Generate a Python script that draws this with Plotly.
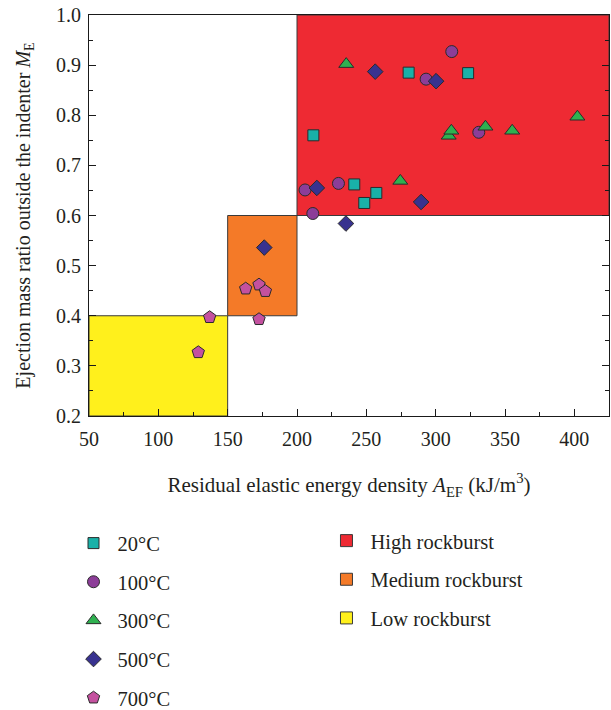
import plotly.graph_objects as go

# ---- data ----
temps = ["20°C", "100°C", "300°C", "500°C", "700°C"]
x20 = [211.8, 241.3, 248.5, 257.2, 280.5, 323.4]
y20 = [0.760, 0.662, 0.625, 0.645, 0.885, 0.884]
x100 = [205.8, 211.4, 229.9, 293.1, 311.6, 331.1]
y100 = [0.651, 0.604, 0.664, 0.872, 0.927, 0.766]
x300 = [235.5, 274.5, 309.4, 311.3, 335.9, 355.2, 402.2]
y300 = [0.902, 0.669, 0.759, 0.769, 0.777, 0.769, 0.797]
x500 = [176.4, 214.3, 235.3, 256.4, 289.5, 300.3]
y500 = [0.536, 0.655, 0.584, 0.887, 0.627, 0.868]
x700 = [128.8, 137.0, 163.0, 172.6, 172.6, 177.2]
y700 = [0.327, 0.397, 0.454, 0.462, 0.393, 0.449]

zones = ["High rockburst", "Medium rockburst", "Low rockburst"]
zone_x0 = [200, 150, 50]
zone_x1 = [425, 200, 150]
zone_y0 = [0.6, 0.4, 0.2]
zone_y1 = [1.0, 0.6, 0.4]

x_ticks = [50, 100, 150, 200, 250, 300, 350, 400]
y_ticks = [0.2, 0.3, 0.4, 0.5, 0.6, 0.7, 0.8, 0.9, 1.0]

# ---- styles ----
FONT = "Liberation Serif"
TXT = "#231f20"
EDGE = "#2b2b2b"
series = [
    (x20, y20, "square", 11, "#19b1a8"),
    (x100, y100, "circle", 12, "#8c3d98"),
    (x300, y300, "triangle-up", 13, "#2fb150"),
    (x500, y500, "diamond", 12, "#38328f"),
    (x700, y700, "pentagon", 13, "#c4519f"),
]
zone_colors = ["#ee2a33", "#f47a28", "#fff01c"]

fig = go.Figure()

for i, (xs, ys, sym, sz, col) in enumerate(series):
    fig.add_trace(go.Scatter(
        x=xs, y=ys, mode="markers", name=temps[i],
        marker=dict(symbol=sym, size=sz, color=col, line=dict(color=EDGE, width=1)),
        legend="legend", legendgroup="t%d" % i,
    ))

for i in range(len(zones)):
    fig.add_shape(
        type="rect", xref="x", yref="y",
        x0=zone_x0[i], x1=zone_x1[i], y0=zone_y0[i], y1=zone_y1[i],
        fillcolor=zone_colors[i], line=dict(color="#3a3a3a", width=1),
        layer="below", showlegend=True, name=zones[i],
        legend="legend2", legendgroup="z%d" % i,
    )

fig.update_layout(
    width=611, height=710,
    margin=dict(l=89, r=2, t=15, b=294, autoexpand=False),
    paper_bgcolor="white", plot_bgcolor="white",
    font=dict(family=FONT, size=20, color=TXT),
    showlegend=True,
    legend=dict(x=-0.0375, y=0.263, xref="paper", yref="container",
                xanchor="left", yanchor="top",
                font=dict(size=20.5, family=FONT, color=TXT), itemwidth=38,
                tracegroupgap=9, bgcolor="rgba(0,0,0,0)", itemsizing="trace"),
    legend2=dict(x=0.449, y=0.2665, xref="paper", yref="container",
                 xanchor="left", yanchor="top",
                 font=dict(size=20.5, family=FONT, color=TXT), itemwidth=38,
                 tracegroupgap=9, bgcolor="rgba(0,0,0,0)"),
)

fig.update_xaxes(
    range=[50, 425], tickvals=x_ticks, ticktext=[str(v) for v in x_ticks],
    showgrid=False, zeroline=False, automargin=False,
    showline=True, linecolor="#1a1a1a", linewidth=1, mirror=True,
    ticks="inside", ticklen=7, tickcolor="#1a1a1a", tickwidth=1,
    minor=dict(ticks="inside", ticklen=4, dtick=25, tick0=50, tickcolor="#1a1a1a", showgrid=False),
    tickfont=dict(size=20, family=FONT, color=TXT), ticklabelstandoff=5,
    title=dict(text="Residual elastic energy density <i>A</i><sub>EF</sub> (kJ/m<sup>3</sup>)",
               font=dict(size=21, family=FONT, color=TXT), standoff=28),
)
fig.update_yaxes(
    range=[0.2, 1.0], tickvals=y_ticks, ticktext=["%.1f" % v for v in y_ticks],
    showgrid=False, zeroline=False, automargin=False,
    showline=True, linecolor="#1a1a1a", linewidth=1, mirror="ticks",
    ticks="inside", ticklen=7, tickcolor="#1a1a1a", tickwidth=1,
    minor=dict(ticks="inside", ticklen=4, dtick=0.05, tick0=0.2, tickcolor="#1a1a1a", showgrid=False),
    tickfont=dict(size=20, family=FONT, color=TXT), ticklabelstandoff=3,
    title=dict(text="Ejection mass ratio outside the indenter <i>M</i><sub>E</sub>",
               font=dict(size=20, family=FONT, color=TXT), standoff=20),
)

fig.write_html("out.html")
